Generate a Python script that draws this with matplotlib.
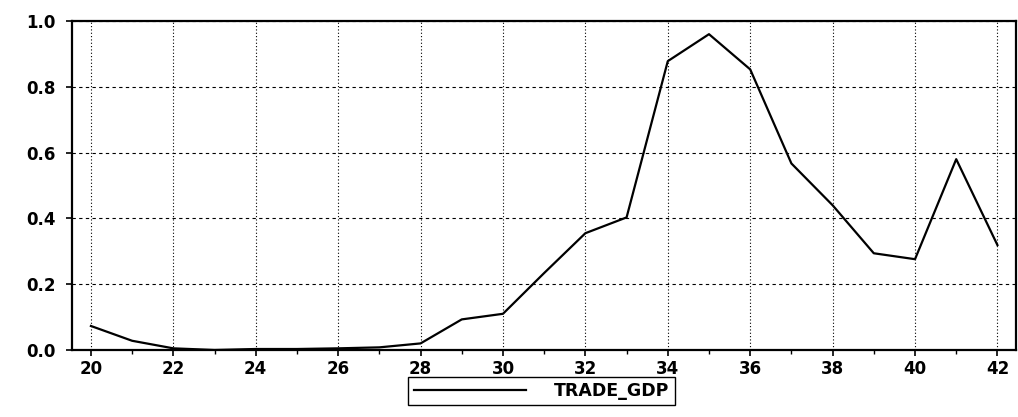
import matplotlib.pyplot as plt
from matplotlib.ticker import MultipleLocator

years = list(range(20, 43))
trade_gdp = [0.073, 0.028, 0.005, 0.0, 0.003, 0.003, 0.005, 0.008, 0.02,
             0.093, 0.11, 0.234, 0.355, 0.403, 0.878, 0.96, 0.853, 0.567,
             0.44, 0.294, 0.276, 0.58, 0.319]
xticks = list(range(20, 43, 2))
yticks = [0.0, 0.2, 0.4, 0.6, 0.8, 1.0]

plt.rcParams['font.family'] = ['DejaVu Sans']
plt.rcParams['font.weight'] = 'bold'

fig = plt.figure(figsize=(10.18, 4.17), dpi=100)
ax = fig.add_axes([0.0707, 0.1607, 0.9273, 0.7889])

ax.plot(years, trade_gdp, color='black', lw=1.6, label='TRADE_GDP')

ax.set_xlim(19.54, 42.45)
ax.set_ylim(0, 1.0)
ax.set_xticks(xticks)
ax.set_yticks(yticks)
ax.set_yticklabels(['%.1f' % v for v in yticks])
ax.xaxis.set_minor_locator(MultipleLocator(1))

ax.grid(axis='x', which='major', color='black', linestyle=(0, (1, 2)), lw=0.8)
ax.grid(axis='y', which='major', color='black', linestyle=(0, (3, 3)), lw=0.8)

for s in ax.spines.values():
    s.set_linewidth(1.6)

ax.tick_params(axis='both', which='major', direction='out', length=4, width=1.2,
               labelsize=12)
ax.tick_params(axis='x', which='minor', direction='out', length=3, width=1.0)
ax.tick_params(axis='x', pad=3)
ax.tick_params(axis='y', pad=8)

fig.legend(loc='upper center', bbox_to_anchor=(0.532, 0.105), frameon=True,
           fancybox=False, edgecolor='black', handlelength=6.5,
           prop={'size': 12.5, 'weight': 'bold'}, borderpad=0.3,
           handletextpad=1.6, borderaxespad=0.2, framealpha=1)

fig.savefig('out.png', dpi=100)
